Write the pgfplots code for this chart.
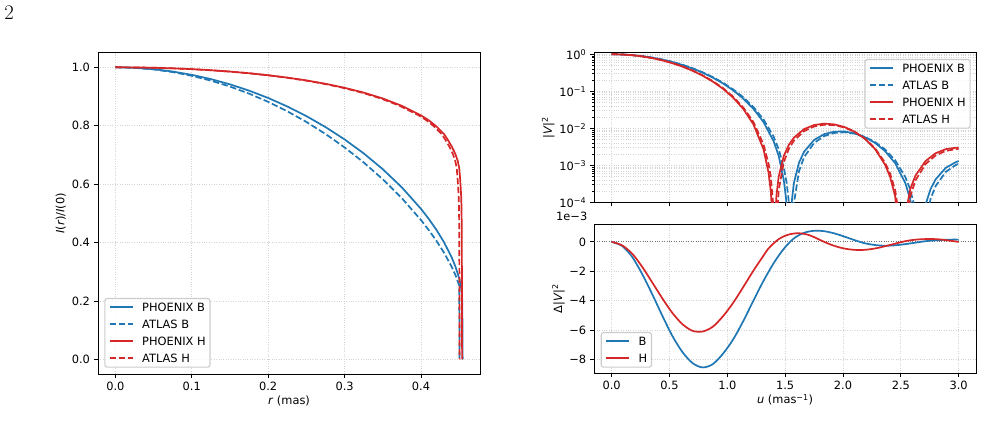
\documentclass[border=0pt]{standalone}
\usepackage{fontspec}
\usepackage{pgfplots}
\pgfplotsset{compat=1.18}

\newfontfamily\mpl{DejaVu Sans}
\newcommand\mplsize{\fontsize{11.4}{13.7}\selectfont}
\definecolor{tabblue}{HTML}{1F77B4}
\definecolor{tabred}{HTML}{D62728}
\definecolor{gridgray}{HTML}{D4D4D4}
\definecolor{legendedge}{HTML}{CCCCCC}

\pgfplotsset{
  mpl/.style={
    scale only axis,
    axis line style={black, line width=0.91pt},
    tick style={black, line width=0.91pt},
    minor tick style={black, line width=0.68pt},
    major tick length=4pt,
    minor tick length=2.3pt,
    tick align=outside,
    tick pos=left,
    grid style={gridgray, line width=0.91pt, dash pattern=on 0.91pt off 1.5pt},
    xticklabel style={anchor=north, inner sep=0pt},
    yticklabel style={anchor=east, inner sep=0pt},
    xticklabel shift=3.7pt,
    yticklabel shift=3.9pt,
    every axis x label/.style={anchor=base, inner sep=0pt},
    every axis y label/.style={anchor=base, inner sep=0pt, rotate=90},
    legend cell align=left,
    legend image code/.code={\draw[##1] (0pt,0pt) -- (22.8pt,0pt);},
    legend style={draw=legendedge, line width=1.14pt, fill=white, fill opacity=0.8,
      draw opacity=1, text opacity=1, rounded corners=2.3pt,
      inner xsep=4.3pt, inner ysep=3.3pt, row sep=6pt,
      /tikz/every odd column/.append style={column sep=8.5pt},
      nodes={inner sep=0pt, text height=9.65pt, text depth=1.35pt}},
  },
  phx/.style={line width=1.71pt, solid},
  atl/.style={line width=1.71pt, dash pattern=on 6.3pt off 2.7pt},
}

\begin{document}
\begin{tikzpicture}[font=\mpl\mplsize]
\useasboundingbox (0,0) rectangle (984pt,437pt);

\node[anchor=base west, inner sep=0pt, font=\rmfamily\fontsize{20.7}{24}\selectfont] at (4.3pt,417pt) {2};

% ---------------- limb-darkening profiles ----------------
\begin{axis}[mpl,
  at={(98pt,63pt)}, anchor=south west,
  width=382pt, height=321.3pt,
  xmin=-0.0227, xmax=0.4772, ymin=-0.05, ymax=1.05,
  grid=major,
  xtick={0,0.1,0.2,0.3,0.4}, xticklabels={0.0,0.1,0.2,0.3,0.4},
  ytick={0,0.2,0.4,0.6,0.8,1.0}, yticklabels={0.0,0.2,0.4,0.6,0.8,1.0},
  xlabel={\textit{r} (mas)},
  ylabel={\textit{I}(\textit{r})/\textit{I}(0)},
  xlabel style={at={(axis description cs:0.5,-0.0934)}},
  ylabel style={at={(axis description cs:-0.0877,0.5)}},
  legend style={at={(0.0165,0.0196)}, anchor=south west},
]
\addplot[tabblue, phx] coordinates {
 (0,1) (0.025,0.9984) (0.05,0.9936) (0.075,0.98558) (0.1,0.97429) (0.125,0.95968)
 (0.15,0.94166) (0.175,0.92015) (0.2,0.89497) (0.225,0.86596) (0.25,0.83288)
 (0.275,0.79541) (0.3,0.75309) (0.325,0.7053) (0.35,0.65105) (0.375,0.58873)
 (0.4,0.51534) (0.41,0.48158) (0.42,0.44417) (0.43,0.40153) (0.44,0.35015)
 (0.445,0.3183) (0.45,0.27688) (0.452,0.25351) (0.453,0.23739) (0.454,0.2) (0.4545,0)};
\addlegendentry{PHOENIX B}
\addplot[tabblue, atl] coordinates {
 (0,1) (0.025,0.99819) (0.05,0.99274) (0.075,0.98364) (0.1,0.97086) (0.125,0.95435)
 (0.15,0.93405) (0.175,0.90989) (0.2,0.88174) (0.225,0.84947) (0.25,0.81288)
 (0.275,0.77175) (0.3,0.7257) (0.325,0.67426) (0.35,0.61666) (0.375,0.55165)
 (0.4,0.47692) (0.41,0.44328) (0.42,0.40664) (0.43,0.36576) (0.44,0.31792)
 (0.445,0.28916) (0.45,0.25293) (0.4505,0)};
\addlegendentry{ATLAS B}
\addplot[tabred, phx] coordinates {
 (0,1) (0.025,0.99962) (0.05,0.99846) (0.075,0.9965) (0.1,0.99372) (0.125,0.99005)
 (0.15,0.98544) (0.175,0.97978) (0.2,0.97295) (0.225,0.96479) (0.25,0.9551)
 (0.275,0.94359) (0.3,0.92986) (0.325,0.91337) (0.35,0.89325) (0.375,0.8681)
 (0.4,0.83529) (0.41,0.81887) (0.42,0.798) (0.43,0.772) (0.435,0.752) (0.44,0.73)
 (0.445,0.703) (0.448,0.68) (0.45,0.655) (0.451,0.625) (0.452,0.585) (0.4525,0.56)
 (0.453,0.52) (0.4533,0.45) (0.4536,0.25) (0.4538,0)};
\addlegendentry{PHOENIX H}
\addplot[tabred, atl] coordinates {
 (0,1) (0.02482,0.99962) (0.04964,0.99846) (0.07445,0.9965) (0.09927,0.99372)
 (0.12409,0.99005) (0.14891,0.98544) (0.17373,0.97978) (0.19855,0.97295)
 (0.22336,0.96479) (0.24818,0.9551) (0.273,0.94359) (0.29782,0.92986)
 (0.32264,0.91337) (0.34746,0.89325) (0.37227,0.8681) (0.39709,0.83529)
 (0.40702,0.81887) (0.41695,0.798) (0.42687,0.772) (0.43184,0.752) (0.4368,0.73)
 (0.44176,0.703) (0.44474,0.68) (0.44673,0.655) (0.44772,0.625) (0.44871,0.585)
 (0.44921,0.56) (0.44971,0.52) (0.45,0.45) (0.4503,0.25) (0.4505,0)};
\addlegendentry{ATLAS H}
\end{axis}

% ---------------- squared visibility ----------------
\begin{axis}[mpl,
  at={(594.3pt,234.7pt)}, anchor=south west,
  width=381.7pt, height=149.6pt,
  ymode=log,
  xmin=-0.15, xmax=3.15, ymin=1e-4, ymax=1.1,
  xmajorgrids, ymajorgrids, yminorgrids,
  xtick={0,0.5,1,1.5,2,2.5,3}, xticklabels={},
  ytick={1e-4,1e-3,1e-2,1e-1,1},
  yticklabels={10\textsuperscript{−4},10\textsuperscript{−3},10\textsuperscript{−2},10\textsuperscript{−1},10\textsuperscript{0}},
  minor ytick={2e-4,3e-4,4e-4,5e-4,6e-4,7e-4,8e-4,9e-4,
               2e-3,3e-3,4e-3,5e-3,6e-3,7e-3,8e-3,9e-3,
               2e-2,3e-2,4e-2,5e-2,6e-2,7e-2,8e-2,9e-2,
               2e-1,3e-1,4e-1,5e-1,6e-1,7e-1,8e-1,9e-1},
  ylabel={|\textit{V}|\textsuperscript{2}},
  ylabel style={at={(axis description cs:-0.111,0.5)}},
  legend style={at={(0.986,0.958)}, anchor=north east},
]
\addplot[tabblue, phx] coordinates {
 (0,1) (0.0875,0.98704) (0.1751,0.94903) (0.2626,0.88838) (0.3501,0.80915)
 (0.4377,0.7161) (0.5252,0.61483) (0.6127,0.51098) (0.7003,0.40974) (0.7878,0.31571)
 (0.8754,0.23248) (0.9629,0.16227) (1.0504,0.10585) (1.138,0.06333) (1.2255,0.03361)
 (1.313,0.014723) (1.4006,0.004445) (1.4443,0.001791) (1.4881,4.008e-4)
 (1.5095,1.149e-4) (1.5235,2.11e-5) (1.534,1e-8) (1.5445,2.11e-5) (1.5585,1.149e-4)
 (1.5756,3.331e-4) (1.6194,0.00117) (1.6632,0.002312) (1.7507,0.004847)
 (1.8382,0.006957) (1.9258,0.008098) (2.0133,0.008163) (2.1008,0.007278)
 (2.1884,0.005779) (2.2759,0.00405) (2.3634,0.002425) (2.451,0.00114)
 (2.5385,3.338e-4) (2.5823,1.169e-4) (2.6261,1.35e-5) (2.6508,1e-8) (2.6698,9.2e-6)
 (2.7136,8.67e-5) (2.7574,2.292e-4) (2.8011,4.182e-4) (2.8887,8.567e-4)
 (2.9762,0.0012194) (3.0,0.0013003)};
\addlegendentry{PHOENIX B}
\addplot[tabblue, atl] coordinates {
 (0,1) (0.0875,0.9873) (0.1751,0.95002) (0.2626,0.89055) (0.3501,0.8127)
 (0.4377,0.72112) (0.5252,0.62124) (0.6127,0.51849) (0.7003,0.418) (0.7878,0.32426)
 (0.8754,0.2408) (0.9629,0.16988) (1.0504,0.11249) (1.138,0.06872) (1.2255,0.03761)
 (1.313,0.017374) (1.4006,0.005891) (1.4443,0.002715) (1.4881,8.673e-4)
 (1.5119,3.53e-4) (1.5295,1.202e-4) (1.5435,2.21e-5) (1.554,1e-8) (1.5645,2.21e-5)
 (1.5756,9.41e-5) (1.6194,6.85e-4) (1.6632,0.001648) (1.7507,0.004021)
 (1.8382,0.006167) (1.9258,0.007488) (2.0133,0.007793) (2.1008,0.007159)
 (2.1884,0.005865) (2.2759,0.004264) (2.3634,0.002682) (2.451,0.001372)
 (2.5385,4.866e-4) (2.5823,2.177e-4) (2.6261,5.93e-5) (2.6698,1.06e-6)
 (2.6768,1e-8) (2.7136,2.77e-5) (2.7574,1.244e-4) (2.8011,2.749e-4)
 (2.8887,6.656e-4) (2.9762,0.0010202) (3.0,0.0011056)};
\addlegendentry{ATLAS B}
\addplot[tabred, phx] coordinates {
 (0,1) (0.0875,0.98535) (0.1751,0.94243) (0.2626,0.87415) (0.3501,0.78595)
 (0.4377,0.68342) (0.5252,0.5734) (0.6127,0.46282) (0.7003,0.35726) (0.7878,0.26208)
 (0.8754,0.1812) (0.9629,0.11634) (1.0504,0.06707) (1.138,0.03323) (1.2255,0.01282)
 (1.313,0.002715) (1.3568,6.2e-4) (1.3761,1.94e-4) (1.3901,3.56e-5) (1.4006,1e-8)
 (1.4111,2.88e-5) (1.4251,1.57e-4) (1.4443,5.0e-4) (1.4881,0.00179) (1.5319,0.003569)
 (1.5756,0.005583) (1.6632,0.009483) (1.7507,0.012248) (1.8382,0.013356)
 (1.9258,0.012724) (2.0133,0.01082) (2.1008,0.008086) (2.1884,0.005222)
 (2.2759,0.002778) (2.3634,0.001047) (2.4072,4.887e-4) (2.451,1.452e-4)
 (2.4947,5.8e-6) (2.506,1e-8) (2.528,2.24e-5) (2.5385,4.52e-5) (2.5823,2.302e-4)
 (2.6261,5.253e-4) (2.7136,0.0013) (2.8011,0.002119) (2.8887,0.002728)
 (2.9762,0.002978) (3.0,0.002979)};
\addlegendentry{PHOENIX H}
\addplot[tabred, atl] coordinates {
 (0,1) (0.0875,0.98557) (0.1751,0.94321) (0.2626,0.87583) (0.3501,0.7887)
 (0.4377,0.68726) (0.5252,0.57824) (0.6127,0.46843) (0.7003,0.36332) (0.7878,0.2682)
 (0.8754,0.18697) (0.9629,0.1214) (1.0504,0.07122) (1.138,0.0363) (1.2255,0.01478)
 (1.313,0.003641) (1.3568,0.001088) (1.3748,5.16e-4) (1.4006,6.3e-5) (1.4098,1.18e-5)
 (1.4168,1e-8) (1.4273,2.64e-5) (1.4443,2.157e-4) (1.4881,0.001218) (1.5319,0.002773)
 (1.5756,0.004624) (1.6632,0.008374) (1.7507,0.011189) (1.8382,0.012486)
 (1.9258,0.012118) (2.0133,0.010486) (2.1008,0.007987) (2.1884,0.005287)
 (2.2759,0.002917) (2.3634,0.001181) (2.4072,5.967e-4) (2.451,2.143e-4)
 (2.4947,2.72e-5) (2.5195,1e-8) (2.5385,1.41e-5) (2.5823,1.46e-4) (2.6261,3.905e-4)
 (2.7136,0.0010805) (2.8011,0.001847) (2.8887,0.002449) (2.9762,0.002727)
 (3.0,0.002744)};
\addlegendentry{ATLAS H}
\end{axis}

% ---------------- visibility differences (units of 1e-3) ----------------
\begin{axis}[mpl,
  at={(594.3pt,63.7pt)}, anchor=south west,
  width=381.7pt, height=149pt,
  xmin=-0.15, xmax=3.15, ymin=-8.95, ymax=1.2,
  grid=major,
  xtick={0,0.5,1,1.5,2,2.5,3}, xticklabels={0.0,0.5,1.0,1.5,2.0,2.5,3.0},
  ytick={-8,-6,-4,-2,0}, yticklabels={−8,−6,−4,−2,0},
  xlabel={\textit{u} (mas\textsuperscript{−1})},
  ylabel={Δ|\textit{V}|\textsuperscript{2}},
  xlabel style={at={(axis description cs:0.5,-0.206)}},
  ylabel style={at={(axis description cs:-0.0846,0.5)}},
  legend style={at={(0.0168,0.0376)}, anchor=south west},
]
\addplot[black!55, line width=0.91pt, dash pattern=on 0.91pt off 1.5pt, forget plot]
  coordinates {(-0.15,0) (3.15,0)};
\addplot[tabblue, phx, smooth] coordinates {
 (0,0) (0.0875,-0.26) (0.1751,-0.99) (0.2626,-2.17) (0.3501,-3.55) (0.4377,-5.02)
 (0.5252,-6.41) (0.6127,-7.51) (0.7003,-8.26) (0.7878,-8.55) (0.8754,-8.32)
 (0.9629,-7.61) (1.0504,-6.64) (1.138,-5.39) (1.2255,-4.0) (1.313,-2.65)
 (1.4006,-1.45) (1.4881,-0.47) (1.5756,0.24) (1.6632,0.62) (1.7507,0.76)
 (1.8382,0.73) (1.9258,0.58) (2.0133,0.36) (2.1008,0.12) (2.1884,-0.09)
 (2.2759,-0.21) (2.3634,-0.26) (2.451,-0.23) (2.5385,-0.15) (2.6261,-0.05)
 (2.7136,0.05) (2.8011,0.11) (2.8887,0.15) (2.9762,0.16) (3.0,0.15)};
\addlegendentry{B}
\addplot[tabred, phx, smooth] coordinates {
 (0,0) (0.0875,-0.22) (0.1751,-0.78) (0.2626,-1.68) (0.3501,-2.75) (0.4377,-3.84)
 (0.5252,-4.84) (0.6127,-5.61) (0.7003,-6.06) (0.7878,-6.1) (0.8754,-5.77)
 (0.9629,-5.06) (1.0504,-4.15) (1.138,-3.07) (1.2255,-1.96) (1.313,-0.93)
 (1.35,-0.5) (1.4,-0.1) (1.45,0.22) (1.5,0.42) (1.55,0.54) (1.6,0.59) (1.65,0.57)
 (1.7,0.48) (1.75,0.33) (1.8,0.14) (1.85,-0.04) (1.9,-0.2) (1.95,-0.33) (2.0,-0.43)
 (2.05,-0.5) (2.1,-0.54) (2.15,-0.55) (2.2,-0.53) (2.25,-0.48) (2.3,-0.41)
 (2.35,-0.32) (2.4,-0.22) (2.45,-0.12) (2.5,-0.02) (2.55,0.07) (2.6,0.13)
 (2.65,0.17) (2.7,0.19) (2.75,0.2) (2.8,0.19) (2.85,0.16) (2.9,0.11) (2.95,0.06)
 (3.0,0.0)};
\addlegendentry{H}
\end{axis}

\node[anchor=base east, inner sep=0pt] at (587.5pt,216.3pt) {1e−3};
\end{tikzpicture}
\end{document}
